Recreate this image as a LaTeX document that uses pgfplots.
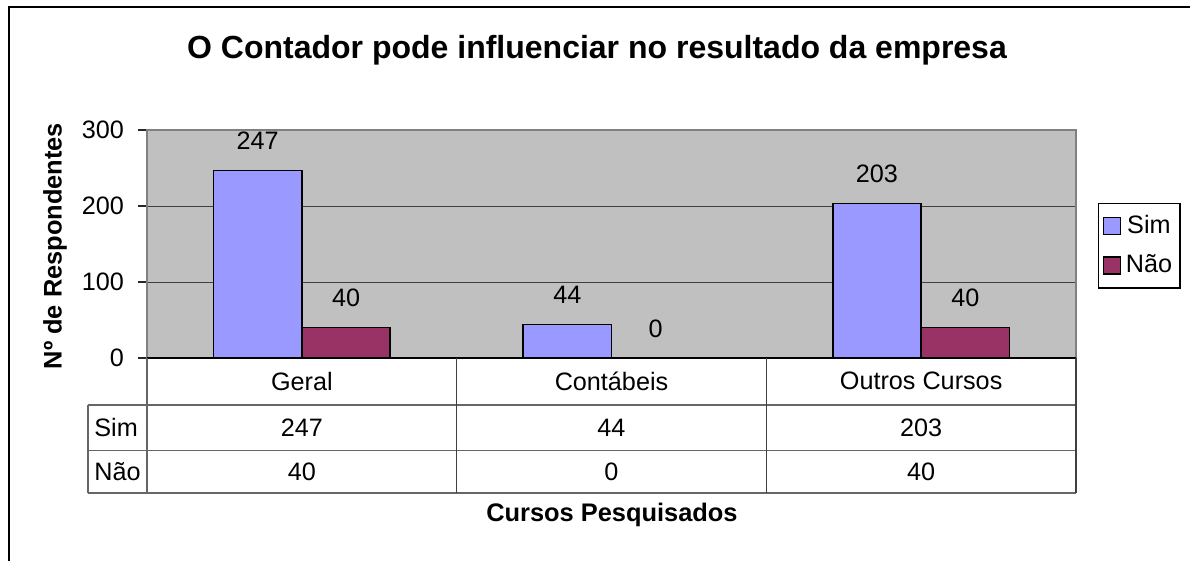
\documentclass[border=0pt]{standalone}
\usepackage{fontspec}
\setmainfont{Liberation Sans}
\usepackage{pgfplots}
\pgfplotsset{compat=1.18}
\definecolor{simc}{HTML}{9999FF}
\definecolor{naoc}{HTML}{993366}
\definecolor{plotbg}{HTML}{C0C0C0}
\newcommand{\tfont}{\fontsize{12.6}{15}\selectfont}
\begin{document}
\begin{tikzpicture}
\useasboundingbox (0,0) rectangle (595pt,-280.5pt);
\draw[line width=0.9pt] (4.5pt,-281pt) -- (4.5pt,-3.5pt) -- (596pt,-3.5pt);
\node[font=\bfseries\fontsize{16}{19}\selectfont] at (298.5pt,-25pt) {O Contador pode influenciar no resultado da empresa};
\begin{axis}[
  at={(73.5pt,-179pt)}, anchor=south west,
  scale only axis, width=464.5pt, height=114pt,
  xmin=-0.5, xmax=2.5, ymin=0, ymax=300,
  xtick=\empty, ytick={0,100,200,300},
  ytick pos=left, tick align=outside, major tick length=4.5pt,
  tick style={black!85, line width=0.6pt},
  ymajorgrids, grid style={black!75, line width=0.5pt},
  axis background/.style={fill=plotbg},
  axis line style={black!50, line width=0.6pt},
  ybar=0pt, bar width=0.2855,
  enlargelimits=false, clip=false,
  /pgf/number format/assume math mode=true,
  yticklabel style={font=\tfont, xshift=-3.5pt},
  nodes near coords,
  every node near coord/.append style={font=\tfont, inner sep=0pt, anchor=south, yshift=10pt, text=black},
  ylabel={Nº de Respondentes},
  ylabel style={at={(axis description cs:-0.099,0.491)}, anchor=center, font=\bfseries\fontsize{12.7}{15}\selectfont},
  xlabel={Cursos Pesquisados},
  xlabel style={at={(axis description cs:0.5005,-0.689)}, anchor=center, font=\bfseries\fontsize{12.7}{15}\selectfont},
  legend style={at={(axis description cs:1.0237,0.6798)}, anchor=north west, draw=black, line width=0.6pt, fill=white,
    font=\tfont, inner xsep=2pt, inner ysep=4pt, row sep=5pt, /tikz/column sep=0.5pt},
  legend image code/.code={\draw[#1,draw=black,line width=0.6pt] (0pt,-4.25pt) rectangle (8.5pt,4.25pt);},
]
\addplot[fill=simc, draw=black, line width=0.75pt] coordinates {(0,247) (1,44) (2,203)};
\addplot[fill=naoc, draw=black, line width=0.75pt] coordinates {(0,40) (1,0) (2,40)};
\legend{Sim,Não}
\draw[black, line width=1pt] (axis cs:-0.5,0) -- (axis cs:2.5,0);
% data table
\draw[black!60, line width=0.6pt] (axis cs:-0.6905,-61.84) -- (axis cs:2.5,-61.84);
\draw[black!60, line width=0.6pt] (axis cs:-0.6905,-121.7) -- (axis cs:2.5,-121.7);
\draw[black!60, line width=0.6pt] (axis cs:-0.6905,-177.6) -- (axis cs:2.5,-177.6);
\draw[black!60, line width=0.6pt] (axis cs:-0.6905,-61.84) -- (axis cs:-0.6905,-177.6);
\draw[black!60, line width=0.6pt] (axis cs:-0.5,0) -- (axis cs:-0.5,-177.6);
\draw[black!75, line width=0.6pt] (axis cs:0.5,0) -- (axis cs:0.5,-177.6);
\draw[black!75, line width=0.6pt] (axis cs:1.5,0) -- (axis cs:1.5,-177.6);
\draw[black!75, line width=0.6pt] (axis cs:2.5,0) -- (axis cs:2.5,-177.6);
\node[font=\tfont] at (axis cs:0,-30.26) {Geral};
\node[font=\tfont] at (axis cs:1,-30.26) {Contábeis};
\node[font=\tfont] at (axis cs:2,-30.26) {Outros Cursos};
\node[font=\tfont, anchor=west, inner sep=0pt] at (axis cs:-0.6711,-91.78) {Sim};
\node[font=\tfont, anchor=west, inner sep=0pt] at (axis cs:-0.6711,-149.67) {Não};
\node[font=\tfont] at (axis cs:0,-91.78) {247};
\node[font=\tfont] at (axis cs:1,-91.78) {44};
\node[font=\tfont] at (axis cs:2,-91.78) {203};
\node[font=\tfont] at (axis cs:0,-149.67) {40};
\node[font=\tfont] at (axis cs:1,-149.67) {0};
\node[font=\tfont] at (axis cs:2,-149.67) {40};
\end{axis}
\end{tikzpicture}
\end{document}
